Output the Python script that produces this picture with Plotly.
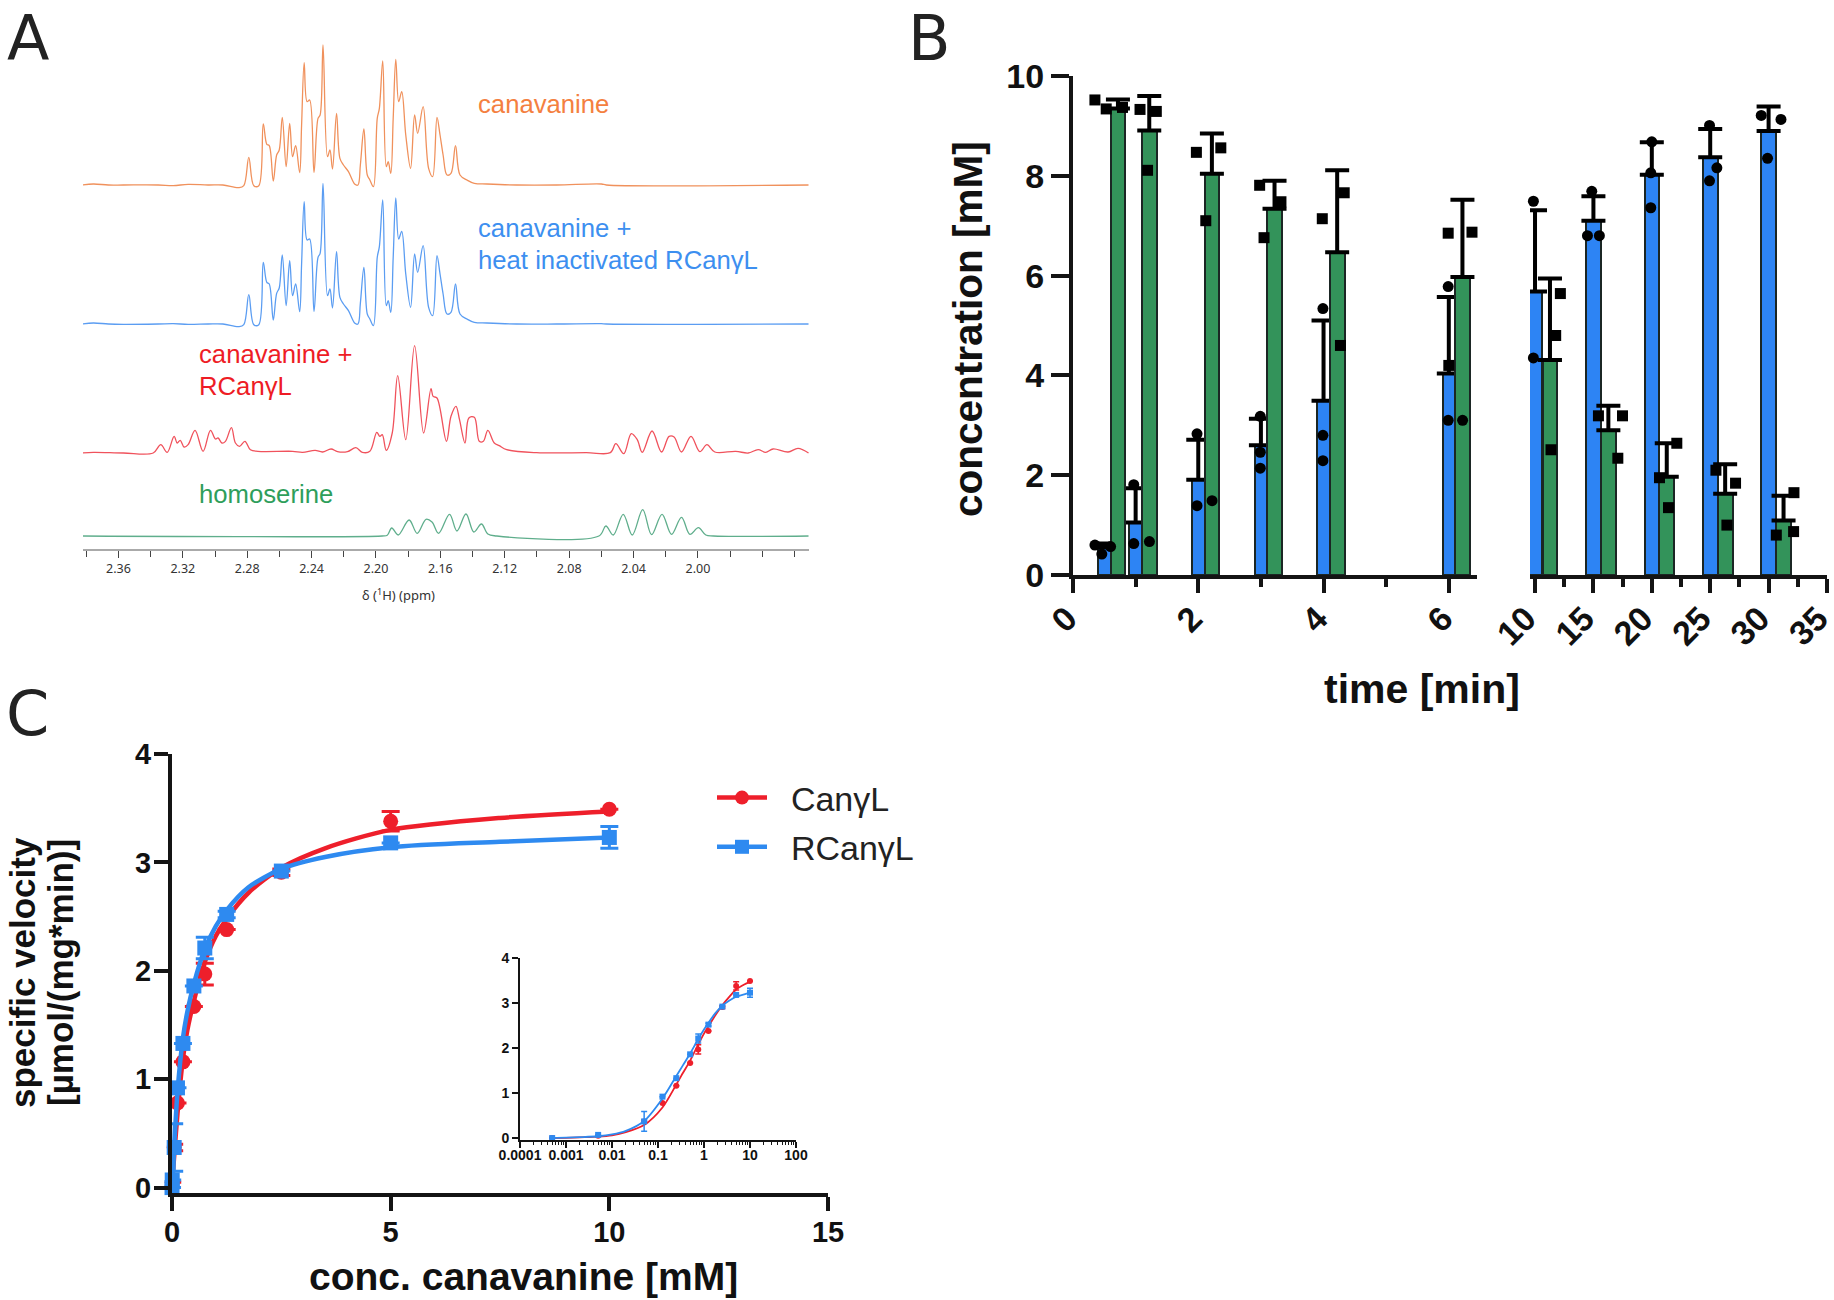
import plotly.graph_objects as go

W, H = 1834, 1300
def dx(a, b): return [a / W, b / W]
def dy(top, bottom): return [1 - bottom / H, 1 - top / H]

# ---------- Panel A: NMR spectra (ppm, relative intensity) ----------
upper_ppm = [2.3829,2.3755,2.3662,2.3569,2.3353,2.3260,2.3167,2.3043,2.2951,
    2.2852,2.2821,2.2790,2.2759,2.2728,2.2700,2.2678,2.2663,2.2638,2.2617,
    2.2601,2.2582,2.2558,2.2536,2.2518,2.2499,2.2474,2.2462,2.2446,2.2428,
    2.2412,2.2385,2.2360,2.2347,2.2329,2.2301,2.2286,2.2270,2.2245,2.2224,
    2.2202,2.2171,2.2131,2.2112,2.2097,2.2075,2.2054,2.2038,2.2016,2.1992,
    2.1979,2.1958,2.1936,2.1924,2.1908,2.1893,2.1877,2.1859,2.1840,2.1815,
    2.1785,2.1760,2.1741,2.1707,2.1673,2.1648,2.1621,2.1602,2.1583,2.1559,
    2.1534,2.1506,2.1478,2.1435,2.1389,2.1311,2.1126,2.0878,2.0600,2.0569,1.9313]
canavanine_int = [0,3,0,0,0,-2,2,0,0,
    -8,-2,83,-2,-2,183,122,118,12,90,
    105,203,55,185,85,118,37,180,367,250,
    255,38,200,210,420,85,105,48,215,80,
    60,40,2,0,60,168,30,15,-5,200,
    230,372,55,70,35,200,377,250,280,150,
    50,210,155,235,50,25,203,150,90,30,
    35,118,30,15,5,3,0,0,3,0,0]
heat_int = [0,3,0,-1,0,1,-1,0,0,
    -8,-2,88,-2,-2,185,125,120,12,92,
    108,207,55,190,85,120,37,180,367,252,
    255,38,200,212,422,85,105,48,217,80,
    60,40,2,0,62,170,30,15,-5,200,
    232,372,55,70,35,200,378,255,278,150,
    50,210,155,235,50,25,205,150,90,30,
    35,120,30,15,5,3,0,0,1,0,0]
red_ppm = [2.3829,2.3755,2.3569,2.3384,2.3337,2.3297,2.3254,2.3235,2.3216,2.3192,2.3167,
    2.3124,2.3074,2.3028,2.2997,2.2981,2.2957,2.2935,2.2898,2.2873,2.2848,2.2814,2.2780,
    2.2734,2.2518,2.2456,2.2378,2.2332,2.2279,2.2239,2.2177,2.2125,2.2085,2.2038,2.1995,
    2.1976,2.1961,2.1936,2.1899,2.1865,2.1815,2.1760,2.1704,2.1658,2.1645,2.1621,2.1562,
    2.1534,2.1503,2.1481,2.1447,2.1423,2.1389,2.1358,2.1333,2.1305,2.1265,2.1234,2.1188,
    2.1002,2.0693,2.0544,2.0510,2.0461,2.0414,2.0377,2.0346,2.0285,2.0226,2.0179,2.0148,
    2.0102,2.0043,1.9988,1.9944,1.9895,1.9765,1.9688,1.9626,1.9579,1.9533,1.9440,1.9378,1.9313]
red_int = [0,2,0,0,25,2,50,30,38,18,25,
    68,5,68,42,45,30,35,76,30,20,35,10,
    5,5,2,8,3,12,4,4,16,2,5,62,
    50,55,8,60,232,40,322,60,193,170,165,35,
    110,140,100,30,105,107,35,35,68,30,22,10,
    1,1,1,28,-2,58,40,2,66,3,50,48,
    3,50,4,25,3,5,0,10,2,12,3,14,0]
homo_ppm = [2.3829,2.1961,2.1930,2.1902,2.1862,2.1794,2.1744,2.1689,2.1652,2.1611,2.1543,
    2.1497,2.1441,2.1392,2.1345,2.1305,2.1249,2.0615,2.0572,2.0526,2.0464,2.0408,2.0343,
    2.0288,2.0223,2.0164,2.0102,2.0050,1.9997,1.9951,1.9904,1.9313]
homo_int = [0,0,2,24,3,48,8,50,42,8,65,15,66,12,36,6,0,0,30,3,65,3,79,4,65,5,56,5,25,3,0,0]
ppm_labels = ["2.36","2.32","2.28","2.24","2.20","2.16","2.12","2.08","2.04","2.00"]
ppm_ticks = [2.36,2.32,2.28,2.24,2.20,2.16,2.12,2.08,2.04,2.00]
ppm_minor = [2.38,2.34,2.30,2.26,2.22,2.18,2.14,2.10,2.06,2.02,1.98,1.96,1.94]

# ---------- Panel B: time course ----------
early_t = [0.5,1,2,3,4,6]
late_t = [10,15,20,25,30]
blue_early = [0.55,1.05,1.91,2.60,3.49,4.04]
blue_early_err = [0.08,0.69,0.80,0.53,1.61,1.53]
green_early = [9.35,8.91,8.04,7.34,6.47,5.97]
green_early_err = [0.18,0.69,0.81,0.56,1.64,1.55]
blue_late = [5.68,7.10,8.02,8.37,8.90]
blue_late_err = [1.63,0.49,0.65,0.57,0.49]
green_late = [4.31,2.90,1.97,1.63,1.09]
green_late_err = [1.63,0.49,0.67,0.59,0.50]
circ_early_x = [0.35,0.46,0.60,0.97,0.97,1.22,1.98,1.98,2.22,2.99,2.99,2.99,3.99,3.99,3.99,5.99,5.99,6.22]
circ_early_y = [0.60,0.42,0.57,1.81,0.63,0.67,2.83,1.39,1.49,3.18,2.46,2.14,5.34,2.80,2.29,5.78,3.10,3.10]
sq_early_x = [0.35,0.53,0.79,1.07,1.33,1.19,1.97,2.36,2.12,2.98,3.32,3.05,3.98,4.33,4.27,5.99,6.37,6.00]
sq_early_y = [9.52,9.34,9.37,9.33,9.29,8.11,8.47,8.56,7.10,7.81,7.48,6.76,7.14,7.66,4.60,6.85,6.87,4.20]
circ_late_x = [9.86,9.14,9.86,14.86,14.49,15.51,20.0,19.91,19.91,24.94,25.57,24.94,29.37,31.06,29.91]
circ_late_y = [7.49,5.21,4.35,7.69,6.80,6.80,8.68,8.06,7.36,9.01,8.16,7.90,9.21,9.13,8.35]
sq_late_x = [12.17,11.77,11.37,15.43,17.49,17.09,22.14,20.66,21.43,25.49,27.17,26.43,32.17,30.66,32.14]
sq_late_y = [5.64,4.80,2.51,3.19,3.19,2.34,2.64,1.95,1.35,2.10,1.84,1.00,1.65,0.80,0.87]

# ---------- Panel C: kinetics ----------
conc = [0.0005,0.005,0.05,0.125,0.25,0.5,0.75,1.25,2.5,5,10]
can_v = [0.0,0.05,0.37,0.78,1.16,1.67,1.97,2.38,2.91,3.38,3.49]
can_err = [0,0,0.03,0,0,0,0.10,0,0.03,0.09,0]
rcan_v = [0.0,0.07,0.37,0.92,1.33,1.86,2.21,2.52,2.92,3.18,3.23]
rcan_err = [0,0,0.22,0,0,0,0.10,0.03,0,0,0.10]
fit_conc = [0.0005,0.001,0.002,0.005,0.01,0.02,0.05,0.125,0.25,0.35,0.5,0.75,1,1.25,1.75,2.5,3.5,5,7.5,10]
can_fit = [0,0.005,0.015,0.03,0.06,0.13,0.29,0.68,1.19,1.45,1.72,2.08,2.32,2.48,2.72,2.95,3.13,3.30,3.41,3.47]
rcan_fit = [0.005,0.01,0.02,0.04,0.08,0.16,0.38,0.88,1.38,1.62,1.88,2.20,2.41,2.56,2.77,2.94,3.05,3.14,3.19,3.23]

ORANGE, SPBLUE, SPRED, SPGREEN = "#f0915c", "#5b9df2", "#f0525c", "#5fae8c"
BAR_BLUE, BAR_GREEN = "#2d84f4", "#33935a"
RED, BLUE = "#ee1f2b", "#2e8af0"
DARK = "#141414"
BOLD = "Liberation Sans"
SANS = "Noto Sans"

fig = go.Figure()

# Panel A
for xs, ys, col, ya in [(upper_ppm, canavanine_int, ORANGE, "y"),
                        (upper_ppm, heat_int, SPBLUE, "y2"),
                        (red_ppm, red_int, SPRED, "y3"),
                        (homo_ppm, homo_int, SPGREEN, "y4")]:
    fig.add_trace(go.Scatter(x=xs, y=ys, mode="lines", xaxis="x", yaxis=ya, showlegend=False,
                             line=dict(color=col, width=1.3, shape="spline", smoothing=1.0)))

# Panel B
def bars(t, vals, errs, color, xa, width, offset):
    fig.add_trace(go.Bar(x=t, y=vals, xaxis=xa, yaxis="y5", width=width, offset=offset, showlegend=False,
                         marker=dict(color=color, line=dict(color="#1b2624", width=2)),
                         error_y=dict(type="data", symmetric=False, array=errs, arrayminus=[0]*len(errs),
                                      color="black", thickness=4, width=12)))
bars(early_t, blue_early, blue_early_err, BAR_BLUE, "x2", 0.2, -0.1)
bars(early_t, green_early, green_early_err, BAR_GREEN, "x2", 0.235, 0.1)
bars(late_t, blue_late, blue_late_err, BAR_BLUE, "x3", 1.25, -0.625)
bars(late_t, green_late, green_late_err, BAR_GREEN, "x3", 1.28, 0.64)
for xs, ys, sym, xa in [(circ_early_x, circ_early_y, "circle", "x2"), (sq_early_x, sq_early_y, "square", "x2"),
                        (circ_late_x, circ_late_y, "circle", "x3"), (sq_late_x, sq_late_y, "square", "x3")]:
    fig.add_trace(go.Scatter(x=xs, y=ys, mode="markers", xaxis=xa, yaxis="y5", showlegend=False, cliponaxis=False,
                             marker=dict(color="black", symbol=sym, size=11)))

# Panel C main + inset
for xa, ya, lw, ms, et, ew in [("x4", "y6", 4.5, 15, 3, 9), ("x5", "y7", 1.8, 6, 1.5, 3)]:
    for vals, errs, fit, col, sym in [(can_v, can_err, can_fit, RED, "circle"),
                                      (rcan_v, rcan_err, rcan_fit, BLUE, "square")]:
        fig.add_trace(go.Scatter(x=fit_conc, y=fit, mode="lines", xaxis=xa, yaxis=ya, showlegend=False,
                                 cliponaxis=False, line=dict(color=col, width=lw, shape="spline", smoothing=0.8)))
        fig.add_trace(go.Scatter(x=conc, y=vals, mode="markers", xaxis=xa, yaxis=ya, showlegend=False, cliponaxis=False,
                                 marker=dict(color=col, symbol=sym, size=ms),
                                 error_y=dict(type="data", array=errs, color=col, thickness=et, width=ew)))
for name, col, sym in [("Can\u03b3L", RED, "circle"), ("RCan\u03b3L", BLUE, "square")]:
    fig.add_trace(go.Scatter(x=[None], y=[None], mode="lines+markers", name="\u00a0\u00a0" + name, xaxis="x4", yaxis="y6",
                             legendgroup=name, line=dict(color=col, width=4.5),
                             marker=dict(color=col, symbol=sym, size=14)))

def ann(text, x, y, size, color="black", family=BOLD, angle=0, bold=False, anchor="center", vanchor="middle"):
    fig.add_annotation(text=text, x=x / W, y=1 - y / H, xref="paper", yref="paper", showarrow=False,
                       font=dict(size=size, color=color, family=family, weight="bold" if bold else "normal"),
                       textangle=angle, xanchor=anchor, yanchor=vanchor, align="center")

ann("A", 28, 0, 62, "#222", "DejaVu Sans", vanchor="top")
ann("B", 929, 0, 62, "#222", "DejaVu Sans", vanchor="top")
ann("C", 27, 713, 62, "#222", "DejaVu Sans")
ann("canavanine", 476, 104, 25.7, "#f4803f", anchor="left")
ann("canavanine +", 476, 228, 25.7, "#3d8ff0", anchor="left")
ann("heat inactivated RCan\u03b3L", 476, 260, 25.7, "#3d8ff0", anchor="left")
ann("canavanine +", 197, 354, 25.7, "#ee1c25", anchor="left")
ann("RCan\u03b3L", 197, 386, 25.7, "#ee1c25", anchor="left")
ann("homoserine", 197, 494, 25.7, "#2e9e5b", anchor="left")
ann("\u03b4 (<sup>1</sup>H) (ppm)", 398, 594, 13, "#333", SANS)
ann("concentration [mM]", 968, 329, 40.5, "#111", BOLD, -90, True)
ann("time [min]", 1422, 689, 41, "#111", BOLD, 0, True)
ann("conc. canavanine [mM]", 523, 1276, 39, "#111", BOLD, 0, True)
ann("specific velocity", 22, 973, 35, "#111", BOLD, -90, True)
ann("[\u00b5mol/(mg*min)]", 60, 973, 35, "#111", BOLD, -90, True)

thick = dict(showline=True, linecolor=DARK, linewidth=4, ticks="outside", tickcolor=DARK, tickwidth=4,
             showgrid=False, zeroline=False)
thin = dict(showline=True, linecolor=DARK, linewidth=2, ticks="outside", tickcolor=DARK, tickwidth=2,
            showgrid=False, zeroline=False, tickfont=dict(family=BOLD, size=14, color="#111", weight="bold"))
tf_b = dict(family=BOLD, size=34, color="#111", weight="bold")
tf_c = dict(family=BOLD, size=29, color="#111", weight="bold")

def spec_axis(baseline):
    return dict(domain=dy(baseline - 150, baseline + 5), range=[-15, 450], anchor="x", visible=False, fixedrange=True)

layout = dict(
    width=W, height=H, margin=dict(l=0, r=0, t=0, b=0, autoexpand=False), paper_bgcolor="white",
    plot_bgcolor="rgba(0,0,0,0)",
    barmode="overlay", bargap=0,
    legend=dict(x=712 / W, y=1 - 769 / H, xanchor="left", yanchor="top", traceorder="grouped", tracegroupgap=2,
                itemwidth=50, font=dict(family=BOLD, size=34, color="#222"), bgcolor="rgba(0,0,0,0)"),
    xaxis=dict(domain=dx(83, 809), range=[2.382, 1.931], anchor="free", position=1 - 550 / H,
               showline=True, linecolor="#aaa", linewidth=2,
               showgrid=False, zeroline=False, ticks="outside", ticklen=7, tickwidth=1.2, tickcolor="#444",
               tickvals=ppm_ticks, ticktext=ppm_labels, tickfont=dict(family=SANS, size=12.5, color="#333"),
               minor=dict(tickvals=ppm_minor, ticks="outside", ticklen=6, tickwidth=1.2, tickcolor="#444")),
    yaxis=spec_axis(185), yaxis2=spec_axis(324), yaxis3=spec_axis(453), yaxis4=spec_axis(536),
    xaxis2=dict(**thick, domain=dx(1073, 1477), range=[0, 6.45], anchor="y5", tickvals=[0, 2, 4, 6], ticklen=14,
                tickangle=-45, tickfont=tf_b, ticklabelstandoff=-8, ticklabelshift=-6, ticklabeloverflow="allow",
                minor=dict(tickvals=[1, 3, 5], ticks="outside", ticklen=8, tickwidth=4, tickcolor=DARK)),
    xaxis3=dict(**thick, domain=dx(1530, 1827), range=[9.57, 35], anchor="y5", tickvals=[10, 15, 20, 25, 30, 35],
                ticklen=14, tickangle=-45, tickfont=tf_b, ticklabelstandoff=-8, ticklabelshift=-9, ticklabeloverflow="allow",
                minor=dict(tickvals=[12.5, 17.5, 22.5, 27.5, 32.5], ticks="outside", ticklen=8, tickwidth=4, tickcolor=DARK)),
    yaxis5=dict(**thick, domain=dy(76, 575), range=[0, 10], anchor="x2", tickvals=[0, 2, 4, 6, 8, 10], ticklen=18, tickfont=tf_b),
    xaxis4=dict(**thick, domain=dx(172, 828), range=[0, 15], anchor="y6", tickvals=[0, 5, 10, 15], ticklen=14, tickfont=tf_c,
                ticklabelstandoff=-4),
    yaxis6=dict(**thick, domain=dy(754, 1193), range=[-0.05, 4], anchor="x4", tickvals=[0, 1, 2, 3, 4], ticklen=14, tickfont=tf_c,
                ticklabelstandoff=-3),
    xaxis5=dict(**thin, domain=dx(520, 796), type="log", range=[-4, 2], anchor="y7", ticklen=6, ticklabelstandoff=-5,
                tickvals=[0.0001, 0.001, 0.01, 0.1, 1, 10, 100],
                ticktext=["0.0001", "0.001", "0.01", "0.1", "1", "10", "100"],
                minor=dict(ticks="outside", ticklen=3, tickwidth=1.2, tickcolor=DARK, dtick="D1")),
    yaxis7=dict(**thin, domain=dy(958, 1140.3), range=[-0.05, 4], anchor="x5", tickvals=[0, 1, 2, 3, 4], ticklen=6),
)
fig.update_layout(**layout)

fig.write_html("out.html", config=dict(displayModeBar=False),
               post_script="document.body.style.margin='0';")
